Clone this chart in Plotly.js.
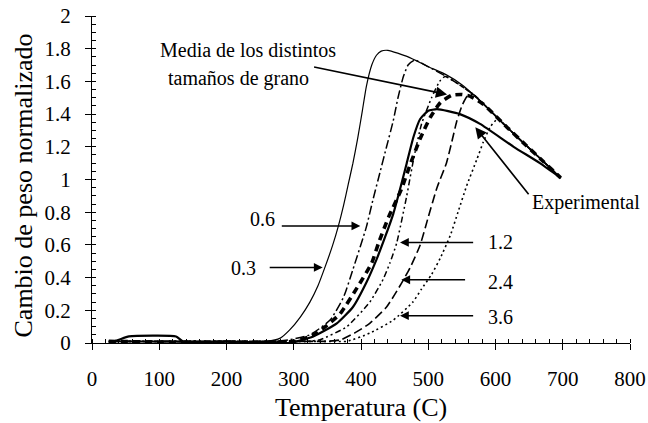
<!DOCTYPE html>
<html>
<head>
<meta charset="utf-8">
<script src="https://cdn.plot.ly/plotly-3.0.1.min.js"></script>
<style>
html,body{margin:0;padding:0;background:#fff;}
#chart{width:648px;height:423px;}
</style>
</head>
<body>
<div id="chart"></div>
<script>
// Grain size 0.3 (thin solid)
const t03 = [25, 260, 280, 294, 310, 324, 336, 347, 358, 366, 374, 381, 388, 395, 402, 408, 416, 423, 430, 440, 470, 500, 527, 550, 567, 590, 617, 640, 666, 697];
const v03 = [0.01, 0.01, 0.03, 0.08, 0.16, 0.25, 0.35, 0.47, 0.60, 0.71, 0.84, 0.97, 1.10, 1.25, 1.42, 1.57, 1.70, 1.76, 1.785, 1.79, 1.75, 1.69, 1.64, 1.58, 1.52, 1.43, 1.32, 1.23, 1.13, 1.01];
// Grain size 0.6 (dash-dot)
const t06 = [25, 270, 294, 324, 354, 374, 388, 408, 418, 428, 438, 448, 455, 463, 470, 480, 500, 527, 550, 567, 590, 617, 640, 666, 697];
const v06 = [0.01, 0.01, 0.02, 0.05, 0.14, 0.28, 0.45, 0.71, 0.88, 1.04, 1.20, 1.36, 1.50, 1.63, 1.70, 1.73, 1.69, 1.63, 1.57, 1.52, 1.43, 1.32, 1.23, 1.13, 1.01];
// Grain size 1.2 (dash-dot-dot)
const t12 = [25, 300, 320, 339, 379, 413, 433, 443, 453, 468, 478, 490, 505, 517, 525, 550, 567, 590, 617, 640, 666, 697];
const v12 = [0.01, 0.01, 0.01, 0.02, 0.10, 0.25, 0.39, 0.49, 0.61, 0.90, 1.12, 1.34, 1.50, 1.60, 1.63, 1.57, 1.52, 1.43, 1.32, 1.23, 1.13, 1.01];
// Grain size 2.4 (dashed)
const t24 = [25, 330, 349, 370, 390, 413, 438, 458, 473, 488, 500, 513, 527, 535, 542, 550, 558, 567, 590, 617, 640, 666, 697];
const v24 = [0.01, 0.01, 0.01, 0.02, 0.06, 0.12, 0.22, 0.35, 0.46, 0.60, 0.77, 0.95, 1.10, 1.23, 1.35, 1.45, 1.51, 1.52, 1.43, 1.32, 1.23, 1.13, 1.01];
// Grain size 3.6 (dotted)
const t36 = [25, 360, 379, 413, 448, 477, 490, 505, 518, 533, 545, 557, 572, 582, 592, 603, 617, 640, 666, 697];
const v36 = [0.01, 0.01, 0.01, 0.06, 0.14, 0.25, 0.33, 0.42, 0.52, 0.66, 0.81, 0.96, 1.12, 1.23, 1.32, 1.37, 1.32, 1.23, 1.13, 1.01];
// Mean of grain sizes (heavy dashed)
const tMed = [25, 300, 330, 347, 369, 396, 416, 426, 441, 460, 473, 488, 503, 518, 535, 550, 562, 582, 617, 640, 666, 697];
const vMed = [0.01, 0.01, 0.05, 0.10, 0.18, 0.35, 0.49, 0.61, 0.77, 0.94, 1.09, 1.25, 1.38, 1.47, 1.515, 1.52, 1.51, 1.46, 1.32, 1.23, 1.13, 1.01];
// Experimental (solid thick)
const tExp = [25, 40, 55, 125, 135, 200, 294, 329, 364, 388, 408, 423, 436, 448, 458, 468, 478, 488, 500, 513, 547, 577, 627, 666, 697];
const vExp = [0.0, 0.02, 0.04, 0.04, 0.01, 0.01, 0.0, 0.04, 0.12, 0.22, 0.37, 0.51, 0.65, 0.79, 0.94, 1.10, 1.26, 1.37, 1.42, 1.43, 1.40, 1.34, 1.20, 1.10, 1.01];

const xTicks = [0, 100, 200, 300, 400, 500, 600, 700, 800];
const yTicks = [0, 0.2, 0.4, 0.6, 0.8, 1, 1.2, 1.4, 1.6, 1.8, 2];
const yTickText = ['0', '0.2', '0.4', '0.6', '0.8', '1', '1.2', '1.4', '1.6', '1.8', '2'];

const FONT = 'Liberation Serif, Times New Roman, serif';

function tr(x, y, w, dash) {
  return {x: x, y: y, type: 'scatter', mode: 'lines', line: {color: '#000', width: w, dash: dash, shape: 'spline', smoothing: 0.5}, hoverinfo: 'skip', showlegend: false};
}

const data = [
  tr(t36, v36, 1.6, '2px,3px'),
  tr(t24, v24, 1.6, '9px,4px'),
  tr(t12, v12, 1.5, '6px,3px,2px,3px,2px,3px'),
  tr(t06, v06, 1.5, '9px,3px,2px,3px'),
  tr(t03, v03, 1.2, 'solid'),
  tr(tExp, vExp, 2.2, 'solid'),
  tr(tMed, vMed, 3.6, '7px,5px')
];

function arrow(tipX, tipY, tailX, tailY, size) {
  return {x: tipX, y: tipY, ax: tailX, ay: tailY, xref: 'x', yref: 'y', axref: 'x', ayref: 'y',
    text: '', showarrow: true, arrowhead: 2, arrowsize: size || 1.1, arrowwidth: 1.6, arrowcolor: '#000'};
}
function label(txt, x, y, anchor) {
  return {x: x, y: y, xref: 'x', yref: 'y', text: txt, showarrow: false, xanchor: anchor || 'center', yanchor: 'middle',
    font: {family: FONT, size: 20, color: '#000'}};
}

const annotations = [
  label('Media de los distintos', 232, 1.795),
  {x: 325, y: 1.615, xref: 'x', yref: 'y', text: 'tamaños de grano', showarrow: false, xanchor: 'right', yanchor: 'middle', font: {family: FONT, size: 20, color: '#000'}},
  arrow(528, 1.52, 328, 1.69, 1.4),
  label('Experimental', 652, 0.86, 'left'),
  arrow(570, 1.32, 651, 0.90, 1.4),
  label('0.6', 253, 0.76),
  arrow(399, 0.716, 280, 0.716),
  label('0.3', 225, 0.46),
  arrow(343, 0.462, 262, 0.462),
  label('1.2', 607, 0.62),
  arrow(458, 0.615, 569, 0.615),
  label('2.4', 607, 0.375),
  arrow(460, 0.387, 557, 0.387),
  label('3.6', 607, 0.16),
  arrow(458, 0.167, 569, 0.167),
  {x: 0.5, y: 0, xref: 'paper', yref: 'paper', yshift: -64, text: 'Temperatura (C)', showarrow: false, xanchor: 'center', yanchor: 'middle', font: {family: FONT, size: 26, color: '#000'}},
  {x: 0, y: 0.5, xref: 'paper', yref: 'paper', xshift: -69, yshift: -6, text: 'Cambio de peso normalizado', textangle: -90, showarrow: false, xanchor: 'center', yanchor: 'middle', font: {family: FONT, size: 26, color: '#000'}}
];

const layout = {
  width: 648, height: 423,
  margin: {l: 92, r: 18, t: 16, b: 80},
  paper_bgcolor: '#fff', plot_bgcolor: '#fff',
  showlegend: false,
  font: {family: FONT, size: 20, color: '#000'},
  xaxis: {
    range: [0, 800], tickvals: xTicks, ticktext: xTicks.map(String), showgrid: false, zeroline: false,
    showline: true, linecolor: '#000', linewidth: 1, ticks: 'outside', ticklen: 6, tickcolor: '#000', tickwidth: 1,
    ticklabelstandoff: 11, tickfont: {family: FONT, size: 21, color: '#000'},
    minor: {dtick: 20, ticks: 'inside', ticklen: 4, tickcolor: '#000', tickwidth: 1, showgrid: false}
  },
  yaxis: {
    range: [0, 2], tickvals: yTicks, ticktext: yTickText, showgrid: false, zeroline: false,
    showline: true, linecolor: '#000', linewidth: 1, ticks: 'outside', ticklen: 6, tickcolor: '#000', tickwidth: 1,
    ticklabelstandoff: 10, tickfont: {family: FONT, size: 21, color: '#000'},
    minor: {dtick: 0.05, ticks: 'inside', ticklen: 4, tickcolor: '#000', tickwidth: 1, showgrid: false}
  },
  annotations: annotations
};

Plotly.newPlot('chart', data, layout, {staticPlot: true, displayModeBar: false});
</script>
</body>
</html>
